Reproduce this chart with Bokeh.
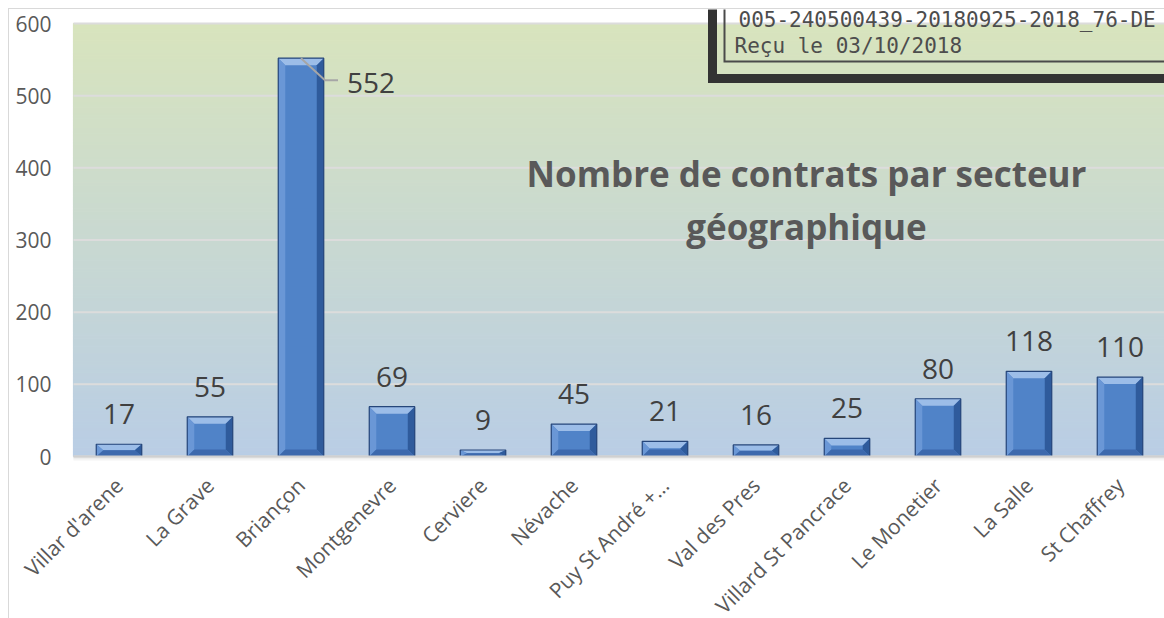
import math
import numpy as np
from bokeh.plotting import figure
from bokeh.models import Range1d, FixedTicker, ColumnDataSource
from bokeh.core.properties import value
from bokeh.embed import file_html
from bokeh.resources import INLINE

# ---------------- data ----------------
categories = ["Villar d'arene", "La Grave", "Briançon", "Montgenevre", "Cerviere",
              "Névache", "Puy St André +…", "Val des Pres", "Villard St Pancrace",
              "Le Monetier", "La Salle", "St Chaffrey"]
contracts = [17, 55, 552, 69, 9, 45, 21, 16, 25, 80, 118, 110]
y_ticks = [0, 100, 200, 300, 400, 500, 600]
title_lines = ["Nombre de contrats par secteur", "géographique"]
stamp_lines = ["005-240500439-20180925-2018_76-DE", "Reçu le 03/10/2018"]

# ---------------- geometry ----------------
OFF = 8                                  # figure is shifted 8 px into the page
W, H = 1156, 610
LEFT = 64                                # plot area starts 64 px into the figure
BASE_PX = 447                            # baseline (y=0) sits 447 px below the figure top
Y_MAX = 600
N = len(categories)
PXX = N / (W - LEFT)                     # data units per pixel (x)
PXY = Y_MAX / 433.0                      # 600 sits 433 px above the baseline

def dx(px):   # page x pixel -> data x
    return (px - OFF - LEFT) * PXX

def dy(py):   # page y pixel -> data y
    return (OFF + BASE_PX - py) * PXY

x_pos = [i + 0.5 for i in range(N)]

p = figure(width=W, height=H,
           x_range=Range1d(-LEFT * PXX, N),
           y_range=Range1d(-(H - BASE_PX) * PXY, BASE_PX * PXY),
           output_backend="svg", toolbar_location=None,
           min_border_left=0, min_border_right=0, min_border_top=0, min_border_bottom=0)
p.outline_line_color = None
p.background_fill_color = "white"
p.border_fill_color = "white"
p.xgrid.grid_line_color = None
p.ygrid.grid_line_color = None

# gradient background of the plot area (bottom blue -> top olive green)
c_bot = np.array([185, 205, 229])
c_top = np.array([216, 228, 189])
nstrip = 150
edges = np.linspace(0, Y_MAX, nstrip + 1)
cols = []
for k in range(nstrip):
    t = (k + 0.5) / nstrip
    c = (c_bot * (1 - t) + c_top * t).round().astype(int)
    cols.append("#%02x%02x%02x" % tuple(c))
p.quad(left=[0] * nstrip, right=[N] * nstrip, bottom=edges[:-1], top=edges[1:],
       fill_color=cols, line_color=cols, line_width=1.2)

# soft shadow under the baseline
for k, c in enumerate(["#e0e0e0", "#ebebeb", "#f4f4f4"]):
    p.quad(left=[0], right=[N], bottom=[-(k + 2) * PXY], top=[-(k + 1) * PXY],
           fill_color=c, line_color=None)

# horizontal grid lines (plot area only)
p.segment(x0=[0] * len(y_ticks), x1=[N] * len(y_ticks), y0=y_ticks, y1=y_ticks,
          line_color="#dcdcdc", line_width=2)

# axes (drawn inside the canvas so that nothing is clipped)
p.yaxis.fixed_location = 0
p.yaxis.ticker = FixedTicker(ticks=y_ticks)
p.yaxis.axis_line_color = None
p.yaxis.major_tick_line_color = None
p.yaxis.minor_tick_line_color = None
p.yaxis.major_tick_out = 0
p.yaxis.major_label_standoff = 22
p.yaxis.major_label_text_font = "Open Sans"
p.yaxis.major_label_text_font_size = "21px"
p.yaxis.major_label_text_color = "#595959"

p.xaxis.fixed_location = 0
p.xaxis.bounds = (0, N)
p.xaxis.ticker = FixedTicker(ticks=x_pos)
p.xaxis.major_label_overrides = {x: c for x, c in zip(x_pos, categories)}
p.xaxis.axis_line_color = "#d0d0d0"
p.xaxis.axis_line_width = 2
p.xaxis.major_tick_line_color = None
p.xaxis.minor_tick_line_color = None
p.xaxis.major_tick_out = 0
p.xaxis.major_label_standoff = 25
p.xaxis.major_label_orientation = math.pi / 4
p.xaxis.major_label_text_font = "Open Sans"
p.xaxis.major_label_text_font_size = "21px"
p.xaxis.major_label_text_color = "#595959"

# ---------------- bevelled bars ----------------
BAR_W = 0.5
src = ColumnDataSource(dict(x=x_pos, val=contracts))
p.vbar(x="x", top="val", width=BAR_W, source=src, fill_color="#5083c8", line_color=None)

bev = {"top": ([], [], "#9cbde8"), "left": ([], [], "#6a97d6"),
       "right": ([], [], "#2f5b9c"), "bottom": ([], [], "#3d69ad")}
for cx, v in zip(x_pos, contracts):
    x0, x1 = cx - BAR_W / 2, cx + BAR_W / 2
    bx = 7 * PXX
    by = min(7 * PXY, v / 2)
    shapes = {
        "top": ([x0, x1, x1 - bx, x0 + bx], [v, v, v - by, v - by]),
        "bottom": ([x0, x1, x1 - bx, x0 + bx], [0, 0, by, by]),
        "left": ([x0, x0, x0 + bx, x0 + bx], [0, v, v - by, by]),
        "right": ([x1, x1, x1 - bx, x1 - bx], [0, v, v - by, by]),
    }
    for k, (xs, ys) in shapes.items():
        bev[k][0].append(xs)
        bev[k][1].append(ys)
for k, (xs, ys, col) in bev.items():
    p.patches(xs=xs, ys=ys, fill_color=col, line_color=None)
p.vbar(x="x", top="val", width=BAR_W, source=src, fill_color=None,
       line_color="#26467a", line_width=1.2)

# ---------------- value labels ----------------
norm_x, norm_y, norm_t = [], [], []
big = []
for cx, v in zip(x_pos, contracts):
    if v > 0.85 * Y_MAX:
        big.append((cx, v))
    else:
        norm_x.append(cx); norm_y.append(v); norm_t.append(str(v))
p.text(x=norm_x, y=norm_y, text=norm_t, y_offset=-30, text_align="center",
       text_baseline="middle", text_font=value("Open Sans"), text_font_size="28px",
       text_color="#404040")
for cx, v in big:
    p.line(x=[cx, cx + 24 * PXX, cx + 37 * PXX], y=[v, v - 22 * PXY, v - 22 * PXY],
           line_color="#a6a6a6", line_width=2)
    p.text(x=[cx], y=[v], text=[str(v)], x_offset=46, y_offset=25, text_align="left",
           text_baseline="middle", text_font=value("Open Sans"), text_font_size="28px",
           text_color="#404040")

# ---------------- chart title ----------------
p.text(x=[dx(805), dx(805)], y=[dy(172), dy(225)], text=title_lines,
       text_align="center", text_baseline="middle", text_font=value("Open Sans"),
       text_font_size="35px", text_font_style="bold", text_color="#595959")

# ---------------- reception stamp ----------------
p.line(x=[dx(711), dx(711), dx(1300)], y=[dy(-40), dy(77), dy(77)],
       line_color="#333333", line_width=9, line_join="miter")
p.line(x=[dx(723), dx(723), dx(1300)], y=[dy(-40), dy(60), dy(60)],
       line_color="#4a4a4a", line_width=2, line_join="miter")
p.text(x=[dx(737), dx(733)], y=[dy(18.5), dy(44)], text=stamp_lines,
       text_align="left", text_baseline="middle", text_font=value("DejaVu Sans Mono"),
       text_font_size="21px", text_color="#4d4d4d")

p.styles = {"margin-left": "%dpx" % OFF, "margin-top": "%dpx" % OFF,
            "border-left": "1px solid #d9d9d9", "border-top": "1px solid #d9d9d9",
            "box-sizing": "border-box"}

open("out.html", "w").write(file_html(p, INLINE))
